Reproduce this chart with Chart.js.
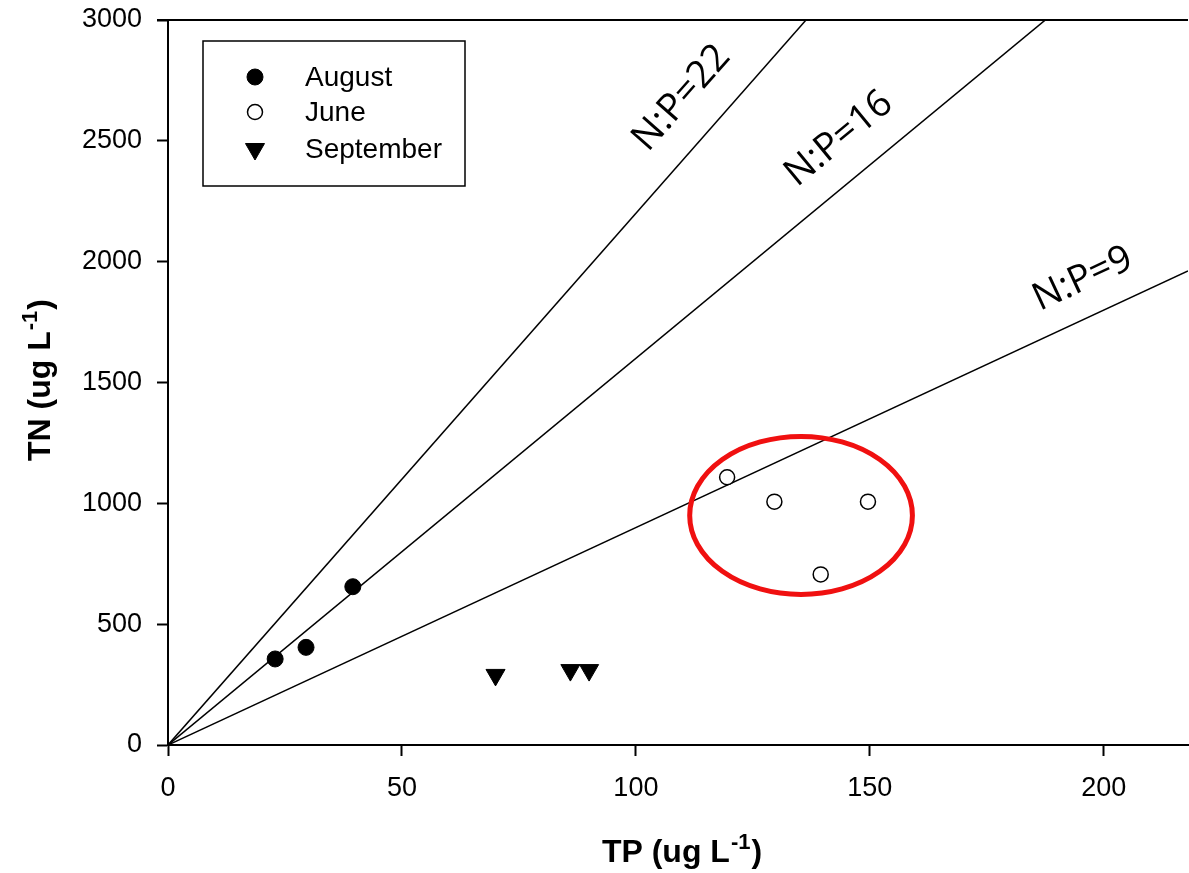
<!DOCTYPE html>
<html>
<head>
<meta charset="utf-8">
<script src="https://cdn.jsdelivr.net/npm/chart.js@4/dist/chart.umd.min.js"></script>
<style>
  html, body { margin: 0; padding: 0; background: #fff; }
  #wrap { width: 1189px; height: 873px; }
</style>
</head>
<body>
<div id="wrap"><canvas id="npChart"></canvas></div>
<script>
// TP / TN values (ug L-1)
const augustTP = [22.9, 29.5, 39.5];
const augustTN = [356, 404, 655];
const juneTP = [119.5, 129.6, 149.6, 139.5];
const juneTN = [1108, 1007, 1007, 706];
const septemberTP = [70, 86, 90];
const septemberTN = [290, 310, 310];

// N:P reference ratios
const ratios = [22, 16, 9];
const ratioLabels = ["N:P=22", "N:P=16", "N:P=9"];

const xMax = 218;
const yMax = 3000;
const xTicks = [0, 50, 100, 150, 200];

const seriesNames = ["August", "June", "September"];

const pts = (xs, ys) => xs.map((v, i) => ({ x: v, y: ys[i] }));

const ratioLines = ratios.map((r) => ({
  type: "line",
  data: [{ x: 0, y: 0 }, { x: xMax, y: r * xMax }],
  borderColor: "#000",
  borderWidth: 1.5,
  pointRadius: 0,
  showLine: true,
  fill: false,
}));

// where the ratio labels sit (data coords, text centre) and how far the ellipse reaches
const labelAt = [[109.8, 2677], [143.4, 2508], [195.5, 1928]];
const ellipse = { tp: 135.3, tn: 950, rtp: 23.8, rtn: 327 };

function drawSupText(ctx, cx, cy, angle, size, main, sup, tail) {
  ctx.save();
  ctx.translate(cx, cy);
  ctx.rotate(angle);
  const big = "bold " + size + "px 'Liberation Sans', Arial, sans-serif";
  const small = "bold " + Math.round(size * 0.68) + "px 'Liberation Sans', Arial, sans-serif";
  ctx.font = big;
  const w1 = ctx.measureText(main).width;
  const w3 = ctx.measureText(tail).width;
  ctx.font = small;
  const w2 = ctx.measureText(sup).width;
  let x0 = -(w1 + w2 + w3) / 2;
  ctx.fillStyle = "#000";
  ctx.textBaseline = "alphabetic";
  ctx.textAlign = "left";
  ctx.font = big;
  ctx.fillText(main, x0, 0);
  ctx.font = small;
  ctx.fillText(sup, x0 + w1 + 1, -size * 0.42);
  ctx.font = big;
  ctx.fillText(tail, x0 + w1 + w2 + 2, 0);
  ctx.restore();
}

const overlay = {
  id: "overlay",
  afterDatasetsDraw(chart) {
    const { ctx, chartArea: a, scales } = chart;
    const x = scales.x, y = scales.y;

    // top frame line
    ctx.save();
    ctx.strokeStyle = "#000";
    ctx.lineWidth = 2;
    ctx.beginPath();
    ctx.moveTo(a.left - 11, a.top);
    ctx.lineTo(a.right, a.top);
    ctx.stroke();

    // red ellipse round the June samples
    const ex = x.getPixelForValue(ellipse.tp);
    const ey = y.getPixelForValue(ellipse.tn);
    const erx = x.getPixelForValue(ellipse.tp + ellipse.rtp) - ex;
    const ery = ey - y.getPixelForValue(ellipse.tn + ellipse.rtn);
    ctx.strokeStyle = "#f01010";
    ctx.lineWidth = 5;
    ctx.beginPath();
    ctx.ellipse(ex, ey, erx, ery, 0, 0, Math.PI * 2);
    ctx.stroke();

    // ratio labels, rotated along their lines
    const pxPerX = (x.getPixelForValue(100) - x.getPixelForValue(0)) / 100;
    const pxPerY = (y.getPixelForValue(0) - y.getPixelForValue(1000)) / 1000;
    ctx.fillStyle = "#000";
    ctx.font = "38px 'Open Sans', sans-serif";
    ctx.textAlign = "center";
    ctx.textBaseline = "middle";
    ratios.forEach((r, i) => {
      const ang = Math.atan((r * pxPerY) / pxPerX);
      ctx.save();
      ctx.translate(x.getPixelForValue(labelAt[i][0]), y.getPixelForValue(labelAt[i][1]));
      ctx.rotate(-ang);
      ctx.fillText(ratioLabels[i], 0, 0);
      ctx.restore();
    });

    // legend box
    const lx = a.left + 35, ly = a.top + 21;
    ctx.lineWidth = 1.5;
    ctx.strokeStyle = "#000";
    ctx.strokeRect(lx, ly, 262, 145);
    ctx.font = "28px 'Liberation Sans', Arial, sans-serif";
    ctx.textAlign = "left";
    ctx.textBaseline = "middle";
    const rows = [36, 71, 108];
    chart.data.datasets.slice(0, 3).forEach((ds, i) => {
      const mx = lx + 52, my = ly + rows[i];
      ctx.save();
      ctx.fillStyle = ds.pointBackgroundColor;
      ctx.strokeStyle = "#000";
      ctx.lineWidth = ds.pointBorderWidth;
      ctx.beginPath();
      if (ds.pointStyle === "triangle") {
        const r = ds.pointRadius;
        ctx.moveTo(mx, my + r);
        ctx.lineTo(mx - r * 0.866, my - r / 2);
        ctx.lineTo(mx + r * 0.866, my - r / 2);
        ctx.closePath();
      } else {
        ctx.arc(mx, my, ds.pointRadius, 0, Math.PI * 2);
      }
      ctx.fill();
      ctx.stroke();
      ctx.restore();
      ctx.fillStyle = "#000";
      ctx.fillText(seriesNames[i], lx + 102, my + 1);
    });

    // axis titles with superscript
    drawSupText(ctx, 681, 862, 0, 32, "TP (ug L", "-1", ")");
    drawSupText(ctx, 50, 381, -Math.PI / 2, 32, "TN (ug L", "-1", ")");
    ctx.restore();
  },
};

const tickFont = { family: "'Liberation Sans', Arial, sans-serif", size: 27 };

new Chart(document.getElementById("npChart"), {
  type: "scatter",
  data: {
    datasets: [
      {
        label: seriesNames[0],
        data: pts(augustTP, augustTN),
        pointStyle: "circle",
        pointRadius: 8,
        pointBackgroundColor: "#000",
        pointBorderColor: "#000",
        pointBorderWidth: 1,
      },
      {
        label: seriesNames[1],
        data: pts(juneTP, juneTN),
        pointStyle: "circle",
        pointRadius: 7.5,
        pointBackgroundColor: "#fff",
        pointBorderColor: "#000",
        pointBorderWidth: 1.5,
      },
      {
        label: seriesNames[2],
        data: pts(septemberTP, septemberTN),
        pointStyle: "triangle",
        rotation: 180,
        pointRadius: 11,
        pointBackgroundColor: "#000",
        pointBorderColor: "#000",
        pointBorderWidth: 1,
      },
      ...ratioLines,
    ],
  },
  options: {
    responsive: true,
    maintainAspectRatio: false,
    animation: false,
    events: [],
    layout: { autoPadding: false, padding: { top: 20, right: 1, left: 0, bottom: 0 } },
    plugins: { legend: { display: false }, tooltip: { enabled: false } },
    scales: {
      x: {
        type: "linear",
        min: 0,
        max: xMax,
        afterBuildTicks: (s) => { s.ticks = xTicks.map((v) => ({ value: v })); },
        afterFit: (s) => { s.height = 128; s.paddingRight = 0; s.paddingLeft = 0; },
        grid: { drawOnChartArea: false, tickLength: 11, tickWidth: 2, color: "#000" },
        border: { color: "#000", width: 2 },
        ticks: { padding: 16, color: "#000", font: tickFont },
      },
      y: {
        type: "linear",
        min: 0,
        max: yMax,
        ticks: {
          stepSize: 500,
          padding: 15,
          color: "#000",
          font: tickFont,
          callback: (v) => String(v),
        },
        afterFit: (s) => { s.width = 168; s.paddingTop = 0; s.paddingBottom = 0; },
        grid: { drawOnChartArea: false, tickLength: 11, tickWidth: 2, color: "#000" },
        border: { color: "#000", width: 2 },
      },
    },
  },
  plugins: [overlay],
});
</script>
</body>
</html>
